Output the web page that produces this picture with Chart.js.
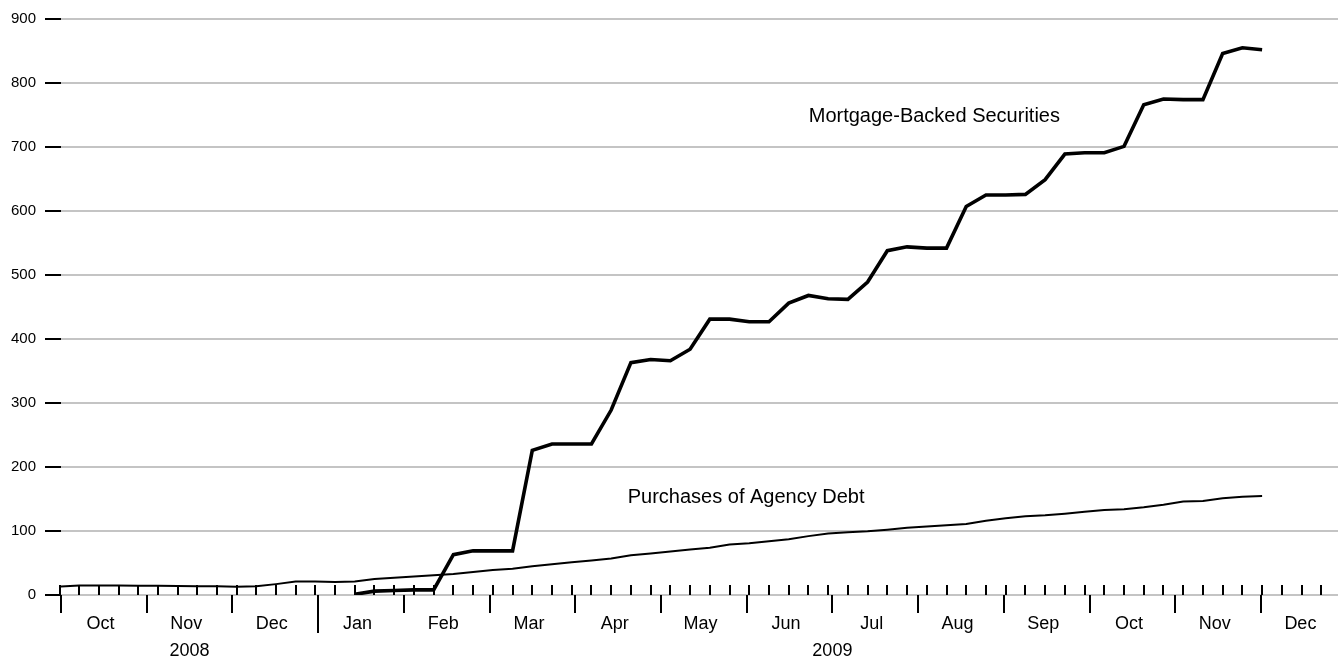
<!DOCTYPE html>
<html>
<head>
<meta charset="utf-8">
<script src="https://cdn.jsdelivr.net/npm/chart.js@4.4.0/dist/chart.umd.min.js"></script>
<style>
html,body{margin:0;padding:0;background:#fff;}
#wrap{width:1338px;height:660px;position:relative;}
canvas{display:block;}
</style>
</head>
<body>
<div id="wrap"><canvas id="c" width="1338" height="660"></canvas></div>
<script>
// ---- Data (weekly, Wednesdays) ----
const weekDates = [
  '2008-10-01','2008-10-08','2008-10-15','2008-10-22','2008-10-29',
  '2008-11-05','2008-11-12','2008-11-19','2008-11-26',
  '2008-12-03','2008-12-10','2008-12-17','2008-12-24','2008-12-31',
  '2009-01-07','2009-01-14','2009-01-21','2009-01-28',
  '2009-02-04','2009-02-11','2009-02-18','2009-02-25',
  '2009-03-04','2009-03-11','2009-03-18','2009-03-25',
  '2009-04-01','2009-04-08','2009-04-15','2009-04-22','2009-04-29',
  '2009-05-06','2009-05-13','2009-05-20','2009-05-27',
  '2009-06-03','2009-06-10','2009-06-17','2009-06-24',
  '2009-07-01','2009-07-08','2009-07-15','2009-07-22','2009-07-29',
  '2009-08-05','2009-08-12','2009-08-19','2009-08-26',
  '2009-09-02','2009-09-09','2009-09-16','2009-09-23','2009-09-30',
  '2009-10-07','2009-10-14','2009-10-21','2009-10-28',
  '2009-11-04','2009-11-11','2009-11-18','2009-11-25',
  '2009-12-02'
];
const agencyDebt = [
  13, 15, 15, 15, 14.5, 14.5, 14, 13.5, 13.5, 13, 13.5, 17, 21, 21,
  20.5, 21, 25, 27, 29, 31, 33, 36, 39, 41, 45, 48, 51, 54, 57, 62,
  65, 68, 71, 74, 79, 81, 84, 87, 92, 96, 98, 99.5, 102, 105, 107, 109,
  111, 116, 120, 123, 124.5, 127, 130, 133, 134, 137, 141, 146, 147, 151,
  153.5, 154.5
];
const mortgageBacked = [
  null, null, null, null, null, null, null, null, null, null, null, null, null, null, null,
  1, 6, 7, 8, 8, 63, 69, 69, 69, 226, 236, 236, 236, 289, 363, 368, 366, 384,
  431, 431, 427, 427, 456, 468, 463, 462, 489, 538, 544, 542, 542,
  607, 625, 625, 626, 649, 689, 691, 691, 701, 766, 775, 774, 774,
  846, 855, 852
];
const monthLabels = ['Oct','Nov','Dec','Jan','Feb','Mar','Apr','May','Jun','Jul','Aug','Sep','Oct','Nov','Dec'];
const monthStarts = ['2008-10','2008-11','2008-12','2009-01','2009-02','2009-03','2009-04','2009-05','2009-06','2009-07','2009-08','2009-09','2009-10','2009-11','2009-12'];
const yearLabels = ['2008','2009'];
const seriesNames = ['Mortgage-Backed Securities','Purchases of Agency Debt'];
const yTickValues = [0,100,200,300,400,500,600,700,800,900];

// ---- helpers ----
const FONT = '"Liberation Sans", Arial, Helvetica, sans-serif';
function decYear(s){
  const p = s.split('-').map(Number);
  const y = p[0], m = p[1], d = p[2];
  const start = Date.UTC(y,0,1), end = Date.UTC(y+1,0,1);
  return y + (Date.UTC(y,m-1,d) - start) / (end - start);
}
function monthPos(s){ const p = s.split('-').map(Number); return p[0] + (p[1]-1)/12; }

const X_MIN = 2008.75, X_MAX = 2009.9916;
const annotations = [
  {text: seriesNames[0], x: 2009.477, y: 747},
  {text: seriesNames[1], x: 2009.301, y: 152}
];

const toPoints = arr => weekDates.map((d,i)=>({x: decYear(d), y: arr[i]})).filter(p => p.y !== null);

const decoPlugin = {
  id: 'deco',
  beforeDatasetsDraw(chart){
    const ctx = chart.ctx, xs = chart.scales.x, ys = chart.scales.y;
    const y0 = ys.getPixelForValue(0);
    ctx.save();
    ctx.strokeStyle = '#000';
    ctx.lineWidth = 2;
    ctx.lineCap = 'butt';
    // weekly minor ticks (above the axis)
    let t = Date.UTC(2008,9,1);
    for(;;){
      const s = new Date(t).toISOString().slice(0,10);
      const v = decYear(s);
      if (v > X_MAX) break;
      const px = Math.round(xs.getPixelForValue(v));
      ctx.beginPath(); ctx.moveTo(px, y0 - 10); ctx.lineTo(px, y0); ctx.stroke();
      t += 7*86400000;
    }
    // month ticks (below the axis)
    monthStarts.forEach((ms) => {
      const v = monthPos(ms);
      const px = Math.round(xs.getPixelForValue(v));
      const isYear = ms.endsWith('-01');
      ctx.beginPath(); ctx.moveTo(px, y0); ctx.lineTo(px, y0 + (isYear ? 38 : 18)); ctx.stroke();
    });
    ctx.restore();
  },
  afterDatasetsDraw(chart){
    const ctx = chart.ctx, xs = chart.scales.x, ys = chart.scales.y;
    const y0 = ys.getPixelForValue(0);
    ctx.save();
    ctx.fillStyle = '#000';
    ctx.textAlign = 'center';
    ctx.textBaseline = 'middle';
    ctx.font = '18px ' + FONT;
    monthStarts.forEach((ms,i) => {
      const v = monthPos(ms) + 14/365;
      ctx.fillText(monthLabels[i], xs.getPixelForValue(v), y0 + 29);
    });
    yearLabels.forEach((yl) => {
      const y = Number(yl);
      const a = Math.max(y, X_MIN), b = y + 1;
      ctx.fillText(yl, xs.getPixelForValue((a+b)/2), y0 + 56);
    });
    ctx.textAlign = 'left';
    ctx.font = '20px ' + FONT;
    annotations.forEach(a => {
      ctx.fillText(a.text, xs.getPixelForValue(a.x), ys.getPixelForValue(a.y));
    });
    ctx.restore();
  }
};

new Chart(document.getElementById('c'), {
  type: 'line',
  data: {
    datasets: [
      {label: seriesNames[0], data: toPoints(mortgageBacked), borderColor: '#000', borderWidth: 3.6, pointRadius: 0, tension: 0, fill: false, borderJoinStyle: 'miter'},
      {label: seriesNames[1], data: toPoints(agencyDebt), borderColor: '#000', borderWidth: 2, pointRadius: 0, tension: 0, fill: false}
    ]
  },
  options: {
    responsive: false,
    animation: false,
    devicePixelRatio: 1,
    layout: {padding: {top: 19, bottom: 65, left: 0, right: 0}},
    plugins: {legend: {display: false}, tooltip: {enabled: false}},
    scales: {
      x: {type: 'linear', display: false, min: X_MIN, max: X_MAX},
      y: {
        min: 0, max: 900,
        afterFit(s){ s.width = 61; },
        afterBuildTicks(s){ s.ticks = yTickValues.map(v => ({value: v})); },
        border: {display: false},
        grid: {color: '#c4c4c4', lineWidth: 2, tickColor: '#000', tickLength: 16, tickWidth: 2},
        ticks: {padding: 9, color: '#000', font: {family: FONT, size: 15}}
      }
    }
  },
  plugins: [decoPlugin]
});
</script>
</body>
</html>
